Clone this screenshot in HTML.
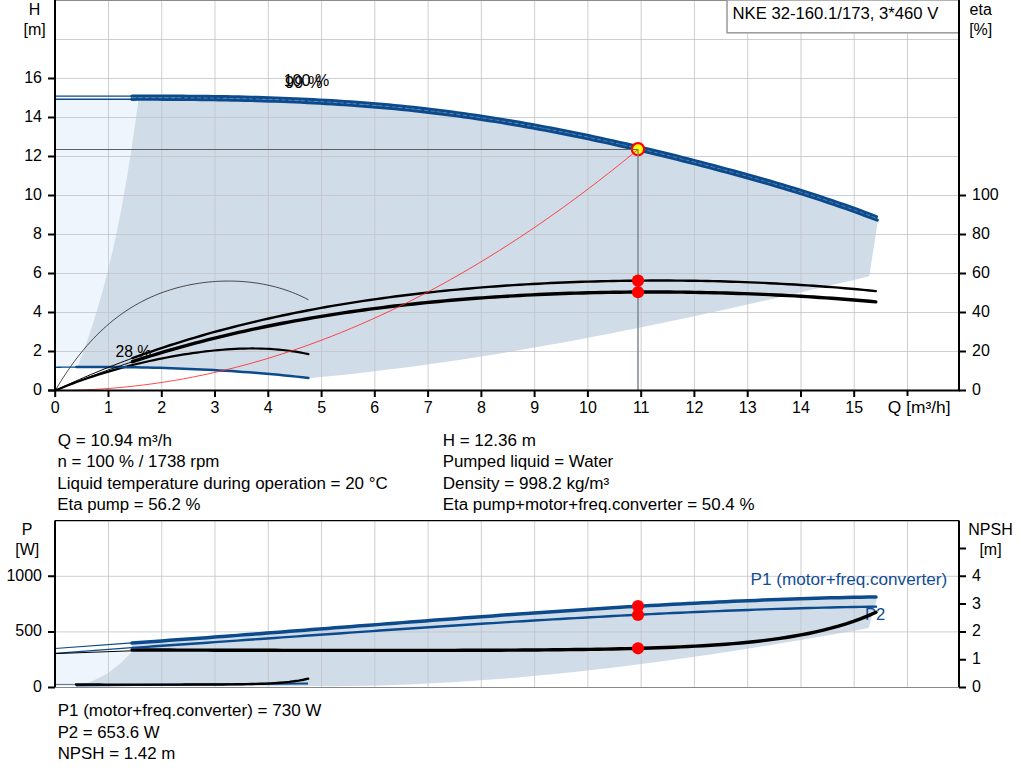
<!DOCTYPE html>
<html><head><meta charset="utf-8"><style>
html,body{margin:0;padding:0;background:#fff;width:1024px;height:781px;overflow:hidden;position:relative}
</style></head><body>
<svg width="1024" height="781" viewBox="0 0 1024 781" style="position:absolute;left:0;top:0">
<g font-family='"Liberation Sans", sans-serif' font-size="16">
<path d="M55.00,99.50 L136.00,99.50 L137.57,105.88 L136.62,112.77 L135.66,119.65 L134.69,126.54 L133.70,133.42 L132.69,140.31 L131.66,147.19 L130.61,154.08 L129.54,160.96 L128.44,167.85 L127.32,174.73 L126.17,181.62 L124.98,188.50 L123.76,195.38 L122.51,202.27 L121.23,209.15 L119.90,216.04 L118.54,222.92 L117.13,229.81 L115.68,236.69 L114.18,243.58 L112.64,250.46 L111.05,257.35 L109.41,264.23 L107.71,271.12 L105.96,278.00 L104.15,284.88 L102.29,291.77 L100.36,298.65 L98.38,305.54 L96.33,312.42 L94.21,319.31 L92.03,326.19 L89.78,333.08 L87.45,339.96 L85.06,346.85 L82.59,353.73 L80.04,360.62 L77.41,367.50 L55.00,367.50Z" fill="#eef5fc"/>
<path d="M136.00,99.17 L148.58,99.16 L161.15,99.18 L173.73,99.23 L186.31,99.31 L198.88,99.43 L211.46,99.58 L224.03,99.78 L236.61,100.03 L249.19,100.33 L261.76,100.68 L274.34,101.09 L286.92,101.56 L299.49,102.09 L312.07,102.70 L324.64,103.37 L337.22,104.13 L349.80,104.96 L362.37,105.88 L374.95,106.88 L387.53,107.97 L400.10,109.16 L412.68,110.45 L425.25,111.83 L437.83,113.32 L450.41,114.92 L462.98,116.62 L475.56,118.42 L488.14,120.32 L500.71,122.32 L513.29,124.41 L525.86,126.59 L538.44,128.86 L551.02,131.22 L563.59,133.66 L576.17,136.19 L588.75,138.80 L601.32,141.49 L613.90,144.26 L626.47,147.10 L639.05,150.01 L651.63,152.99 L664.20,156.04 L676.78,159.16 L689.36,162.34 L701.93,165.59 L714.51,168.89 L727.08,172.25 L739.66,175.67 L752.24,179.17 L764.81,182.74 L777.39,186.41 L789.97,190.19 L802.54,194.07 L815.12,198.08 L827.69,202.22 L840.27,206.51 L852.85,210.95 L865.42,215.56 L878.00,220.33 L878.00,220.33 L869.20,276.40 L869.20,276.30 L854.83,279.71 L840.45,283.11 L826.08,286.48 L811.70,289.83 L797.33,293.16 L782.95,296.47 L768.58,299.75 L754.21,303.00 L739.83,306.22 L725.46,309.40 L711.08,312.55 L696.71,315.66 L682.33,318.74 L667.96,321.77 L653.58,324.76 L639.21,327.70 L624.84,330.60 L610.46,333.44 L596.09,336.24 L581.71,338.98 L567.34,341.66 L552.96,344.29 L538.59,346.86 L524.22,349.37 L509.84,351.81 L495.47,354.19 L481.09,356.50 L466.72,358.73 L452.34,360.90 L437.97,362.99 L423.59,365.01 L409.22,366.95 L394.85,368.81 L380.47,370.59 L366.10,372.28 L351.72,373.88 L337.35,375.40 L322.97,376.83 L308.60,378.17 L308.40,377.91 L300.40,377.03 L292.41,376.20 L284.41,375.40 L276.41,374.65 L268.42,373.94 L260.42,373.26 L252.42,372.62 L244.43,372.03 L236.43,371.46 L228.43,370.94 L220.44,370.45 L212.44,370.00 L204.44,369.58 L196.45,369.20 L188.45,368.84 L180.46,368.53 L172.46,368.24 L164.46,367.98 L156.47,367.76 L148.47,367.57 L140.47,367.40 L132.48,367.26 L124.48,367.16 L116.48,367.08 L108.49,367.02 L100.49,366.99 L92.49,366.99 L84.50,367.01 L76.50,367.06 L77.41,367.50 L80.04,360.62 L82.59,353.73 L85.06,346.85 L87.45,339.96 L89.78,333.08 L92.03,326.19 L94.21,319.31 L96.33,312.42 L98.38,305.54 L100.36,298.65 L102.29,291.77 L104.15,284.88 L105.96,278.00 L107.71,271.12 L109.41,264.23 L111.05,257.35 L112.64,250.46 L114.18,243.58 L115.68,236.69 L117.13,229.81 L118.54,222.92 L119.90,216.04 L121.23,209.15 L122.51,202.27 L123.76,195.38 L124.98,188.50 L126.17,181.62 L127.32,174.73 L128.44,167.85 L129.54,160.96 L130.61,154.08 L131.66,147.19 L132.69,140.31 L133.70,133.42 L134.69,126.54 L135.66,119.65 L136.62,112.77 L137.57,105.88 L138.51,99.00Z" fill="#d0dce8"/>
<path d="M108.50,0 V390 M161.76,0 V390 M215.03,0 V390 M268.30,0 V390 M321.57,0 V390 M374.83,0 V390 M428.10,0 V390 M481.37,0 V390 M534.63,0 V390 M587.90,0 V390 M641.17,0 V390 M694.43,0 V390 M747.70,0 V390 M800.97,0 V390 M854.24,0 V390 M907.50,0 V390 M55,351.5 H959 M55,312.5 H959 M55,273.5 H959 M55,234.5 H959 M55,195.5 H959 M55,156.5 H959 M55,117.5 H959 M55,78.5 H959 M55,39.5 H959" stroke="#c2c3c8" stroke-opacity="0.8" stroke-width="1" fill="none"/>
<path d="M55,0.5 H959" stroke="#8c8c8c" stroke-width="1.2"/>
<rect x="727" y="0" width="232" height="32.8" fill="#fff" stroke="#9f9f9f" stroke-width="1.6"/>
<text x="732.50" y="19.00" textLength="205.84" lengthAdjust="spacingAndGlyphs" text-anchor="start" fill="#000" >NKE 32-160.1/173, 3*460 V</text>
<path d="M55.23,390.50 L58.43,385.15 L61.64,379.99 L64.84,375.04 L68.05,370.27 L71.25,365.69 L74.46,361.29 L77.66,357.06 L80.87,353.00 L84.07,349.10 L87.28,345.36 L90.48,341.78 L93.69,338.34 L96.89,335.04 L100.10,331.89 L103.30,328.87 L106.50,325.97 L109.71,323.21 L112.91,320.56 L116.12,318.04 L119.32,315.62 L122.53,313.32 L125.73,311.12 L128.94,309.03 L132.14,307.03 L135.35,305.13 L138.55,303.32 L141.76,301.61 L144.96,299.97 L148.17,298.43 L151.37,296.96 L154.58,295.57 L157.78,294.26 L160.98,293.02 L164.19,291.85 L167.39,290.75 L170.60,289.72 L173.80,288.75 L177.01,287.85 L180.21,287.01 L183.42,286.23 L186.62,285.50 L189.83,284.84 L193.03,284.23 L196.24,283.68 L199.44,283.18 L202.65,282.73 L205.85,282.34 L209.05,282.00 L212.26,281.72 L215.46,281.48 L218.67,281.29 L221.87,281.16 L225.08,281.08 L228.28,281.05 L231.49,281.07 L234.69,281.14 L237.90,281.26 L241.10,281.44 L244.31,281.67 L247.51,281.96 L250.72,282.30 L253.92,282.70 L257.13,283.15 L260.33,283.67 L263.53,284.24 L266.74,284.88 L269.94,285.58 L273.15,286.35 L276.35,287.18 L279.56,288.09 L282.76,289.06 L285.97,290.11 L289.17,291.24 L292.38,292.45 L295.58,293.73 L298.79,295.10 L301.99,296.56 L305.20,298.11 L308.40,299.75" stroke="#222" stroke-width="0.8" fill="none"/>
<path d="M55.23,390.50 L59.52,388.70 L63.81,386.96 L68.10,385.27 L72.39,383.63 L76.69,382.03 L80.98,380.49 L85.27,378.98 L89.56,377.52 L93.85,376.11 L98.14,374.73 L102.43,373.40 L106.72,372.10 L111.01,370.83 L115.30,369.61 L119.60,368.42 L123.89,367.26 L128.18,366.14 L132.47,365.05 L136.76,363.99 L141.05,362.97 L145.34,361.98 L149.63,361.01 L153.92,360.08 L158.21,359.19 L162.51,358.32 L166.80,357.48 L171.09,356.68 L175.38,355.91 L179.67,355.17 L183.96,354.46 L188.25,353.79 L192.54,353.15 L196.83,352.55 L201.12,351.99 L205.42,351.46 L209.71,350.97 L214.00,350.52 L218.29,350.11 L222.58,349.74 L226.87,349.41 L231.16,349.13 L235.45,348.90 L239.74,348.72 L244.03,348.58 L248.33,348.50 L252.62,348.47 L256.91,348.50 L261.20,348.59 L265.49,348.74 L269.78,348.95 L274.07,349.23 L278.36,349.58 L282.65,349.99 L286.94,350.48 L291.24,351.05 L295.53,351.70 L299.82,352.43 L304.11,353.25 L308.40,354.16" stroke="#000" stroke-width="2.2" fill="none" stroke-linecap="round"/>
<path d="M55.23,367.30 L57.59,367.26 L59.96,367.23 L62.32,367.20 L64.68,367.17 L67.05,367.15 L69.41,367.12 L71.77,367.10 L74.14,367.08 L76.50,367.06" stroke="#0b4a8c" stroke-width="1.3" fill="none"/>
<path d="M76.50,367.06 L82.45,367.02 L88.39,367.00 L94.34,366.99 L100.28,366.99 L106.23,367.01 L112.18,367.04 L118.12,367.09 L124.07,367.15 L130.02,367.23 L135.96,367.32 L141.91,367.43 L147.85,367.55 L153.80,367.69 L159.75,367.85 L165.69,368.02 L171.64,368.21 L177.58,368.42 L183.53,368.64 L189.48,368.89 L195.42,369.15 L201.37,369.43 L207.32,369.73 L213.26,370.04 L219.21,370.38 L225.15,370.74 L231.10,371.11 L237.05,371.51 L242.99,371.92 L248.94,372.36 L254.88,372.82 L260.83,373.29 L266.78,373.79 L272.72,374.31 L278.67,374.86 L284.62,375.42 L290.56,376.01 L296.51,376.62 L302.45,377.25 L308.40,377.91" stroke="#0b4a8c" stroke-width="2.5" fill="none" stroke-linecap="round"/>
<path d="M55.23,390.50 L59.30,388.59 L63.36,386.70 L67.43,384.84 L71.49,383.00 L75.56,381.18 L79.62,379.39 L83.69,377.63 L87.75,375.88 L91.82,374.16 L95.88,372.46 L99.95,370.79 L104.01,369.13 L108.08,367.50 L112.14,365.89 L116.21,364.31 L120.27,362.74 L124.34,361.20 L128.40,359.67 L132.47,358.17" stroke="#000" stroke-width="1" fill="none"/>
<path d="M132.47,358.17 L138.71,355.90 L144.96,353.68 L151.21,351.51 L157.45,349.38 L163.70,347.30 L169.95,345.26 L176.19,343.27 L182.44,341.32 L188.69,339.42 L194.93,337.55 L201.18,335.73 L207.43,333.95 L213.67,332.21 L219.92,330.51 L226.17,328.85 L232.41,327.22 L238.66,325.63 L244.91,324.08 L251.15,322.57 L257.40,321.09 L263.64,319.65 L269.89,318.24 L276.14,316.87 L282.38,315.53 L288.63,314.22 L294.88,312.94 L301.12,311.70 L307.37,310.49 L313.62,309.31 L319.86,308.16 L326.11,307.04 L332.36,305.94 L338.60,304.88 L344.85,303.84 L351.10,302.84 L357.34,301.86 L363.59,300.91 L369.84,299.98 L376.08,299.08 L382.33,298.21 L388.58,297.36 L394.82,296.53 L401.07,295.73 L407.32,294.96 L413.56,294.21 L419.81,293.48 L426.06,292.77 L432.30,292.09 L438.55,291.43 L444.80,290.79 L451.04,290.18 L457.29,289.58 L463.53,289.01 L469.78,288.45 L476.03,287.92 L482.27,287.41 L488.52,286.92 L494.77,286.45 L501.01,285.99 L507.26,285.56 L513.51,285.15 L519.75,284.75 L526.00,284.38 L532.25,284.02 L538.49,283.68 L544.74,283.36 L550.99,283.06 L557.23,282.77 L563.48,282.50 L569.73,282.25 L575.97,282.02 L582.22,281.80 L588.47,281.61 L594.71,281.43 L600.96,281.26 L607.21,281.11 L613.45,280.98 L619.70,280.87 L625.95,280.77 L632.19,280.69 L638.44,280.63 L644.69,280.58 L650.93,280.55 L657.18,280.54 L663.42,280.54 L669.67,280.56 L675.92,280.60 L682.16,280.65 L688.41,280.72 L694.66,280.81 L700.90,280.91 L707.15,281.03 L713.40,281.17 L719.64,281.32 L725.89,281.50 L732.14,281.68 L738.38,281.89 L744.63,282.11 L750.88,282.36 L757.12,282.61 L763.37,282.89 L769.62,283.19 L775.86,283.50 L782.11,283.83 L788.36,284.18 L794.60,284.55 L800.85,284.94 L807.10,285.34 L813.34,285.77 L819.59,286.21 L825.84,286.68 L832.08,287.17 L838.33,287.67 L844.58,288.20 L850.82,288.75 L857.07,289.32 L863.32,289.91 L869.56,290.52 L875.81,291.15" stroke="#000" stroke-width="2.4" fill="none" stroke-linecap="round"/>
<path d="M55.23,390.50 L59.30,388.81 L63.36,387.13 L67.43,385.48 L71.49,383.85 L75.56,382.23 L79.62,380.64 L83.69,379.07 L87.75,377.52 L91.82,375.99 L95.88,374.48 L99.95,372.98 L104.01,371.51 L108.08,370.05 L112.14,368.62 L116.21,367.20 L120.27,365.80 L124.34,364.42 L128.40,363.06 L132.47,361.72" stroke="#000" stroke-width="1" fill="none"/>
<path d="M132.47,361.72 L138.71,359.68 L144.96,357.70 L151.21,355.75 L157.45,353.84 L163.70,351.97 L169.95,350.14 L176.19,348.35 L182.44,346.60 L188.69,344.88 L194.93,343.20 L201.18,341.56 L207.43,339.96 L213.67,338.38 L219.92,336.85 L226.17,335.35 L232.41,333.88 L238.66,332.44 L244.91,331.04 L251.15,329.67 L257.40,328.33 L263.64,327.03 L269.89,325.75 L276.14,324.51 L282.38,323.29 L288.63,322.10 L294.88,320.95 L301.12,319.82 L307.37,318.72 L313.62,317.65 L319.86,316.60 L326.11,315.58 L332.36,314.59 L338.60,313.63 L344.85,312.69 L351.10,311.77 L357.34,310.88 L363.59,310.02 L369.84,309.18 L376.08,308.36 L382.33,307.57 L388.58,306.80 L394.82,306.05 L401.07,305.33 L407.32,304.63 L413.56,303.95 L419.81,303.29 L426.06,302.65 L432.30,302.03 L438.55,301.44 L444.80,300.87 L451.04,300.31 L457.29,299.78 L463.53,299.26 L469.78,298.77 L476.03,298.29 L482.27,297.83 L488.52,297.40 L494.77,296.98 L501.01,296.58 L507.26,296.19 L513.51,295.83 L519.75,295.48 L526.00,295.15 L532.25,294.84 L538.49,294.54 L544.74,294.26 L550.99,294.00 L557.23,293.75 L563.48,293.53 L569.73,293.31 L575.97,293.12 L582.22,292.94 L588.47,292.77 L594.71,292.63 L600.96,292.49 L607.21,292.38 L613.45,292.27 L619.70,292.19 L625.95,292.12 L632.19,292.06 L638.44,292.02 L644.69,292.00 L650.93,291.99 L657.18,292.00 L663.42,292.02 L669.67,292.05 L675.92,292.10 L682.16,292.17 L688.41,292.25 L694.66,292.34 L700.90,292.45 L707.15,292.58 L713.40,292.72 L719.64,292.88 L725.89,293.05 L732.14,293.23 L738.38,293.43 L744.63,293.65 L750.88,293.88 L757.12,294.12 L763.37,294.39 L769.62,294.66 L775.86,294.95 L782.11,295.26 L788.36,295.58 L794.60,295.92 L800.85,296.28 L807.10,296.65 L813.34,297.04 L819.59,297.44 L825.84,297.86 L832.08,298.30 L838.33,298.75 L844.58,299.22 L850.82,299.70 L857.07,300.21 L863.32,300.73 L869.56,301.27 L875.81,301.82" stroke="#000" stroke-width="3.4" fill="none" stroke-linecap="round"/>
<path d="M55.00,96.13 L132.00,96.13" stroke="#0b4a8c" stroke-width="1.3" fill="none"/>
<path d="M132.00,96.13 L138.26,96.12 L144.51,96.11 L150.77,96.11 L157.02,96.12 L163.28,96.14 L169.53,96.16 L175.79,96.19 L182.04,96.23 L188.30,96.28 L194.55,96.33 L200.81,96.40 L207.07,96.47 L213.32,96.56 L219.58,96.66 L225.83,96.76 L232.09,96.88 L238.34,97.02 L244.60,97.16 L250.85,97.32 L257.11,97.49 L263.36,97.68 L269.62,97.88 L275.88,98.09 L282.13,98.32 L288.39,98.57 L294.64,98.83 L300.90,99.11 L307.15,99.40 L313.41,99.72 L319.66,100.05 L325.92,100.40 L332.17,100.77 L338.43,101.15 L344.69,101.56 L350.94,101.99 L357.20,102.44 L363.45,102.91 L369.71,103.40 L375.96,103.91 L382.22,104.45 L388.47,105.01 L394.73,105.59 L400.98,106.20 L407.24,106.83 L413.50,107.48 L419.75,108.16 L426.01,108.87 L432.26,109.60 L438.52,110.36 L444.77,111.14 L451.03,111.95 L457.28,112.79 L463.54,113.65 L469.79,114.53 L476.05,115.44 L482.31,116.38 L488.56,117.34 L494.82,118.32 L501.07,119.32 L507.33,120.35 L513.58,121.41 L519.84,122.48 L526.09,123.58 L532.35,124.70 L538.61,125.84 L544.86,127.00 L551.12,128.19 L557.37,129.39 L563.63,130.62 L569.88,131.87 L576.14,133.14 L582.39,134.42 L588.65,135.73 L594.90,137.06 L601.16,138.41 L607.42,139.77 L613.67,141.16 L619.93,142.56 L626.18,143.98 L632.44,145.42 L638.69,146.88 L644.95,148.35 L651.20,149.84 L657.46,151.35 L663.71,152.87 L669.97,154.42 L676.23,155.97 L682.48,157.55 L688.74,159.13 L694.99,160.74 L701.25,162.36 L707.50,163.99 L713.76,165.64 L720.01,167.30 L726.27,168.98 L732.52,170.67 L738.78,172.38 L745.04,174.10 L751.29,175.85 L757.55,177.61 L763.80,179.40 L770.06,181.21 L776.31,183.04 L782.57,184.90 L788.82,186.79 L795.08,188.70 L801.33,190.64 L807.59,192.62 L813.85,194.62 L820.10,196.66 L826.36,198.73 L832.61,200.83 L838.87,202.97 L845.12,205.15 L851.38,207.37 L857.63,209.63 L863.89,211.93 L870.14,214.28 L876.40,216.67" stroke="#0b4a8c" stroke-width="3.3" fill="none" stroke-linecap="round"/>
<path d="M55.00,99.23 L132.00,99.23" stroke="#0b4a8c" stroke-width="1.3" fill="none"/>
<path d="M132.00,99.23 L138.26,99.22 L144.52,99.21 L150.79,99.21 L157.05,99.22 L163.31,99.24 L169.57,99.26 L175.84,99.29 L182.10,99.33 L188.36,99.38 L194.62,99.43 L200.88,99.50 L207.15,99.57 L213.41,99.66 L219.67,99.76 L225.93,99.87 L232.19,99.99 L238.46,100.12 L244.72,100.26 L250.98,100.42 L257.24,100.59 L263.51,100.78 L269.77,100.98 L276.03,101.20 L282.29,101.43 L288.55,101.67 L294.82,101.94 L301.08,102.21 L307.34,102.51 L313.60,102.83 L319.87,103.16 L326.13,103.51 L332.39,103.88 L338.65,104.27 L344.91,104.68 L351.18,105.11 L357.44,105.56 L363.70,106.03 L369.96,106.52 L376.23,107.04 L382.49,107.57 L388.75,108.13 L395.01,108.72 L401.27,109.33 L407.54,109.96 L413.80,110.61 L420.06,111.30 L426.32,112.00 L432.58,112.74 L438.85,113.50 L445.11,114.29 L451.37,115.10 L457.63,115.94 L463.90,116.80 L470.16,117.69 L476.42,118.60 L482.68,119.54 L488.94,120.50 L495.21,121.48 L501.47,122.49 L507.73,123.52 L513.99,124.58 L520.26,125.65 L526.52,126.75 L532.78,127.88 L539.04,129.02 L545.30,130.19 L551.57,131.37 L557.83,132.58 L564.09,133.81 L570.35,135.06 L576.62,136.33 L582.88,137.62 L589.14,138.94 L595.40,140.27 L601.66,141.62 L607.93,142.98 L614.19,144.37 L620.45,145.78 L626.71,147.20 L632.97,148.64 L639.24,150.10 L645.50,151.58 L651.76,153.07 L658.02,154.59 L664.29,156.11 L670.55,157.66 L676.81,159.22 L683.07,160.80 L689.33,162.39 L695.60,163.99 L701.86,165.62 L708.12,167.25 L714.38,168.90 L720.65,170.57 L726.91,172.25 L733.17,173.95 L739.43,175.66 L745.69,177.39 L751.96,179.14 L758.22,180.91 L764.48,182.70 L770.74,184.51 L777.01,186.35 L783.27,188.21 L789.53,190.10 L795.79,192.02 L802.05,193.97 L808.32,195.95 L814.58,197.96 L820.84,200.00 L827.10,202.08 L833.36,204.19 L839.63,206.34 L845.89,208.52 L852.15,210.75 L858.41,213.02 L864.68,215.33 L870.94,217.68 L877.20,220.08" stroke="#0b4a8c" stroke-width="3.3" fill="none" stroke-linecap="round"/>
<path d="M132.00,97.68 L138.25,97.67 L144.50,97.66 L150.76,97.66 L157.01,97.67 L163.26,97.69 L169.51,97.71 L175.76,97.74 L182.02,97.78 L188.27,97.83 L194.52,97.88 L200.77,97.95 L207.03,98.02 L213.28,98.11 L219.53,98.21 L225.78,98.31 L232.03,98.43 L238.29,98.56 L244.54,98.71 L250.79,98.87 L257.04,99.04 L263.29,99.22 L269.55,99.42 L275.80,99.64 L282.05,99.87 L288.30,100.11 L294.55,100.37 L300.81,100.65 L307.06,100.95 L313.31,101.26 L319.56,101.59 L325.82,101.94 L332.07,102.31 L338.32,102.70 L344.57,103.10 L350.82,103.53 L357.08,103.98 L363.33,104.45 L369.58,104.94 L375.83,105.45 L382.08,105.99 L388.34,106.55 L394.59,107.13 L400.84,107.73 L407.09,108.36 L413.34,109.02 L419.60,109.70 L425.85,110.40 L432.10,111.13 L438.35,111.89 L444.61,112.67 L450.86,113.48 L457.11,114.31 L463.36,115.17 L469.61,116.06 L475.87,116.97 L482.12,117.90 L488.37,118.86 L494.62,119.84 L500.87,120.84 L507.13,121.87 L513.38,122.92 L519.63,123.99 L525.88,125.09 L532.13,126.21 L538.39,127.35 L544.64,128.51 L550.89,129.69 L557.14,130.90 L563.39,132.12 L569.65,133.37 L575.90,134.64 L582.15,135.92 L588.40,137.23 L594.66,138.56 L600.91,139.90 L607.16,141.27 L613.41,142.65 L619.66,144.05 L625.92,145.47 L632.17,146.91 L638.42,148.36 L644.67,149.83 L650.92,151.32 L657.18,152.83 L663.43,154.35 L669.68,155.89 L675.93,157.45 L682.18,159.02 L688.44,160.61 L694.69,162.21 L700.94,163.83 L707.19,165.46 L713.45,167.11 L719.70,168.77 L725.95,170.44 L732.20,172.13 L738.45,173.84 L744.71,175.56 L750.96,177.31 L757.21,179.07 L763.46,180.85 L769.71,182.66 L775.97,184.49 L782.22,186.35 L788.47,188.23 L794.72,190.14 L800.97,192.08 L807.23,194.05 L813.48,196.05 L819.73,198.08 L825.98,200.15 L832.24,202.25 L838.49,204.39 L844.74,206.57 L850.99,208.79 L857.24,211.04 L863.50,213.34 L869.75,215.68 L876.00,218.06" stroke="#7f9cc0" stroke-width="0.6" fill="none" stroke-dasharray="4 2.5"/>
<circle cx="638" cy="149.2" r="6.1" fill="#ffff00" stroke="#ff0000" stroke-width="2.2"/>
<path d="M55.23,390.50 L65.11,390.43 L74.98,390.22 L84.86,389.88 L94.74,389.39 L104.61,388.77 L114.49,388.01 L124.37,387.11 L134.25,386.07 L144.12,384.89 L154.00,383.58 L163.88,382.12 L173.75,380.53 L183.63,378.80 L193.51,376.93 L203.38,374.92 L213.26,372.77 L223.14,370.49 L233.02,368.07 L242.89,365.50 L252.77,362.80 L262.65,359.97 L272.52,356.99 L282.40,353.87 L292.28,350.62 L302.15,347.23 L312.03,343.69 L321.91,340.02 L331.79,336.22 L341.66,332.27 L351.54,328.19 L361.42,323.96 L371.29,319.60 L381.17,315.10 L391.05,310.46 L400.92,305.68 L410.80,300.77 L420.68,295.71 L430.55,290.52 L440.43,285.19 L450.31,279.72 L460.19,274.11 L470.06,268.36 L479.94,262.48 L489.82,256.45 L499.69,250.29 L509.57,243.99 L519.45,237.55 L529.32,230.97 L539.20,224.26 L549.08,217.40 L558.96,210.41 L568.83,203.28 L578.71,196.01 L588.59,188.60 L598.46,181.05 L608.34,173.37 L618.22,165.54 L628.09,157.58 L637.97,149.48" stroke="#ff2a2a" stroke-width="0.85" fill="none"/>
<path d="M55,149.5 H638" stroke="#606060" stroke-width="1" fill="none"/>
<path d="M638,149 V390" stroke="#7d8893" stroke-width="2" stroke-opacity="0.75" fill="none"/>
<circle cx="638" cy="280.6" r="6.1" fill="#ff0000"/>
<circle cx="638" cy="292.2" r="6.1" fill="#ff0000"/>
<path d="M55,0 V391.5 M48,390.5 H960 M959,0 V391.5" stroke="#000" stroke-width="2" fill="none"/>
<path d="M48,390.5 H55 M48,351.5 H55 M48,312.5 H55 M48,273.5 H55 M48,234.5 H55 M48,195.5 H55 M48,156.5 H55 M48,117.5 H55 M48,78.5 H55 M55.2,390 V397 M108.5,390 V397 M161.8,390 V397 M215.0,390 V397 M268.3,390 V397 M321.6,390 V397 M374.8,390 V397 M428.1,390 V397 M481.4,390 V397 M534.6,390 V397 M587.9,390 V397 M641.2,390 V397 M694.4,390 V397 M747.7,390 V397 M801.0,390 V397 M854.2,390 V397 M907.5,390 V397 M959,390.5 H966 M959,351.5 H966 M959,312.5 H966 M959,273.5 H966 M959,234.5 H966 M959,195.5 H966" stroke="#000" stroke-width="2" fill="none"/>
<text x="42" y="395.0" text-anchor="end">0</text>
<text x="42" y="356.0" text-anchor="end">2</text>
<text x="42" y="317.0" text-anchor="end">4</text>
<text x="42" y="278.0" text-anchor="end">6</text>
<text x="42" y="239.0" text-anchor="end">8</text>
<text x="42" y="200.0" text-anchor="end">10</text>
<text x="42" y="161.0" text-anchor="end">12</text>
<text x="42" y="122.0" text-anchor="end">14</text>
<text x="42" y="83.0" text-anchor="end">16</text>
<text x="55.2" y="412.6" text-anchor="middle">0</text>
<text x="108.5" y="412.6" text-anchor="middle">1</text>
<text x="161.8" y="412.6" text-anchor="middle">2</text>
<text x="215.0" y="412.6" text-anchor="middle">3</text>
<text x="268.3" y="412.6" text-anchor="middle">4</text>
<text x="321.6" y="412.6" text-anchor="middle">5</text>
<text x="374.8" y="412.6" text-anchor="middle">6</text>
<text x="428.1" y="412.6" text-anchor="middle">7</text>
<text x="481.4" y="412.6" text-anchor="middle">8</text>
<text x="534.6" y="412.6" text-anchor="middle">9</text>
<text x="587.9" y="412.6" text-anchor="middle">10</text>
<text x="641.2" y="412.6" text-anchor="middle">11</text>
<text x="694.4" y="412.6" text-anchor="middle">12</text>
<text x="747.7" y="412.6" text-anchor="middle">13</text>
<text x="801.0" y="412.6" text-anchor="middle">14</text>
<text x="854.2" y="412.6" text-anchor="middle">15</text>
<text x="972" y="395.0">0</text>
<text x="972" y="356.0">20</text>
<text x="972" y="317.0">40</text>
<text x="972" y="278.0">60</text>
<text x="972" y="239.0">80</text>
<text x="972" y="200.0">100</text>
<rect x="886" y="396" width="69" height="22" fill="#fff"/>
<text x="887.89" y="412.80" textLength="62.60" lengthAdjust="spacingAndGlyphs" text-anchor="start" fill="#000" >Q [m³/h]</text>
<text x="34.6" y="15" text-anchor="middle">H</text>
<text x="34.6" y="35" text-anchor="middle">[m]</text>
<text x="980.7" y="15" text-anchor="middle">eta</text>
<text x="980.7" y="35" text-anchor="middle">[%]</text>
<text x="283.65" y="85.90" textLength="45.52" lengthAdjust="spacingAndGlyphs" text-anchor="start" fill="#000" >100 %</text>
<text x="285.13" y="88.30" textLength="37.35" lengthAdjust="spacingAndGlyphs" text-anchor="start" fill="#000" >99 %</text>
<text x="115.46" y="357.00" textLength="35.80" lengthAdjust="spacingAndGlyphs" text-anchor="start" fill="#000" >28 %</text>
<text x="57.80" y="445.80" textLength="114.07" lengthAdjust="spacingAndGlyphs" text-anchor="start" fill="#000" >Q = 10.94 m³/h</text>
<text x="57.54" y="467.10" textLength="161.90" lengthAdjust="spacingAndGlyphs" text-anchor="start" fill="#000" >n = 100 % / 1738 rpm</text>
<text x="57.28" y="489.30" textLength="330.48" lengthAdjust="spacingAndGlyphs" text-anchor="start" fill="#000" >Liquid temperature during operation = 20 °C</text>
<text x="57.29" y="509.70" textLength="143.27" lengthAdjust="spacingAndGlyphs" text-anchor="start" fill="#000" >Eta pump = 56.2 %</text>
<text x="442.67" y="445.80" textLength="93.20" lengthAdjust="spacingAndGlyphs" text-anchor="start" fill="#000" >H = 12.36 m</text>
<text x="442.68" y="467.10" textLength="170.58" lengthAdjust="spacingAndGlyphs" text-anchor="start" fill="#000" >Pumped liquid = Water</text>
<text x="442.67" y="489.30" textLength="166.47" lengthAdjust="spacingAndGlyphs" text-anchor="start" fill="#000" >Density = 998.2 kg/m³</text>
<text x="442.68" y="509.70" textLength="311.83" lengthAdjust="spacingAndGlyphs" text-anchor="start" fill="#000" >Eta pump+motor+freq.converter = 50.4 %</text>
<path d="M55.00,653.60 L132.30,651.40 L121.00,662.80 L108.20,673.00 L90.50,681.90 L76.50,685.20 L55.00,685.20Z" fill="#eef5fc"/>
<path d="M132.00,644.52 L147.20,643.46 L162.41,642.39 L177.61,641.29 L192.82,640.18 L208.02,639.06 L223.22,637.93 L238.43,636.78 L253.63,635.63 L268.84,634.46 L284.04,633.30 L299.24,632.12 L314.45,630.95 L329.65,629.77 L344.86,628.59 L360.06,627.41 L375.27,626.23 L390.47,625.06 L405.67,623.89 L420.88,622.73 L436.08,621.58 L451.29,620.44 L466.49,619.31 L481.69,618.19 L496.90,617.08 L512.10,616.00 L527.31,614.93 L542.51,613.87 L557.71,612.84 L572.92,611.83 L588.12,610.84 L603.33,609.88 L618.53,608.94 L633.73,608.03 L648.94,607.15 L664.14,606.30 L679.35,605.48 L694.55,604.69 L709.76,603.94 L724.96,603.22 L740.16,602.55 L755.37,601.91 L770.57,601.31 L785.78,600.76 L800.98,600.24 L816.18,599.78 L831.39,599.36 L846.59,598.98 L861.80,598.66 L877.00,598.39 L868.50,628.50 L868.50,628.04 L854.13,630.64 L839.76,633.20 L825.38,635.73 L811.01,638.22 L796.64,640.66 L782.27,643.07 L767.90,645.43 L753.53,647.74 L739.15,650.00 L724.78,652.22 L710.41,654.38 L696.04,656.49 L681.67,658.54 L667.29,660.54 L652.92,662.48 L638.55,664.35 L624.18,666.16 L609.81,667.91 L595.44,669.58 L581.06,671.19 L566.69,672.73 L552.32,674.20 L537.95,675.59 L523.58,676.90 L509.21,678.13 L494.83,679.29 L480.46,680.36 L466.09,681.35 L451.72,682.25 L437.35,683.06 L422.97,683.79 L408.60,684.42 L394.23,684.95 L379.86,685.39 L365.49,685.74 L351.12,685.98 L336.74,686.13 L322.37,686.17 L308.00,686.10 L76.50,686.00 L76.50,685.20 L90.50,681.90 L108.20,673.00 L121.00,662.80 L132.30,651.40Z" fill="#d0dce8"/>
<path d="M108.50,521 V687 M161.76,521 V687 M215.03,521 V687 M268.30,521 V687 M321.57,521 V687 M374.83,521 V687 M428.10,521 V687 M481.37,521 V687 M534.63,521 V687 M587.90,521 V687 M641.17,521 V687 M694.43,521 V687 M747.70,521 V687 M800.97,521 V687 M854.24,521 V687 M907.50,521 V687 M55,631.90 H959 M55,576.30 H959" stroke="#c2c3c8" stroke-opacity="0.8" stroke-width="1" fill="none"/>
<text x="750.46" y="585.10" textLength="196.68" lengthAdjust="spacingAndGlyphs" text-anchor="start" fill="#124d92" >P1 (motor+freq.converter)</text>
<text x="864.90" y="620.40" textLength="20.40" lengthAdjust="spacingAndGlyphs" text-anchor="start" fill="#124d92" >P2</text>
<path d="M55,684.5 H76" stroke="#6c7c90" stroke-width="1.2" fill="none"/>
<path d="M76,685.5 L308,683.5" stroke="#0b4a8c" stroke-width="2" fill="none"/>
<path d="M76.00,684.55 L80.74,684.56 L85.48,684.56 L90.22,684.57 L94.96,684.57 L99.69,684.57 L104.43,684.58 L109.17,684.58 L113.91,684.58 L118.65,684.58 L123.39,684.59 L128.13,684.59 L132.87,684.59 L137.60,684.59 L142.34,684.59 L147.08,684.59 L151.82,684.59 L156.56,684.59 L161.30,684.59 L166.04,684.59 L170.78,684.59 L175.51,684.58 L180.25,684.58 L184.99,684.57 L189.73,684.56 L194.47,684.56 L199.21,684.54 L203.95,684.53 L208.69,684.51 L213.42,684.49 L218.16,684.46 L222.90,684.43 L227.64,684.39 L232.38,684.35 L237.12,684.29 L241.86,684.22 L246.60,684.14 L251.33,684.04 L256.07,683.92 L260.81,683.77 L265.55,683.58 L270.29,683.36 L275.03,683.09 L279.77,682.77 L284.51,682.37 L289.24,681.89 L293.98,681.30 L298.72,680.58 L303.46,679.70 L308.20,678.64" stroke="#000" stroke-width="2.4" fill="none" stroke-linecap="round"/>
<path d="M55,648.5 L132,642.9" stroke="#0b4a8c" stroke-width="1.2" fill="none"/>
<path d="M55,653.4 L132,647.6" stroke="#0b4a8c" stroke-width="1.2" fill="none"/>
<path d="M55,653.6 L132,650.8" stroke="#000" stroke-width="1" fill="none"/>
<path d="M132.00,649.93 L139.52,649.95 L147.03,649.98 L154.55,650.00 L162.06,650.03 L169.58,650.05 L177.09,650.08 L184.61,650.10 L192.12,650.12 L199.64,650.14 L207.15,650.16 L214.67,650.18 L222.18,650.20 L229.70,650.22 L237.21,650.24 L244.73,650.26 L252.24,650.27 L259.76,650.29 L267.27,650.30 L274.79,650.32 L282.30,650.33 L289.82,650.34 L297.33,650.36 L304.85,650.37 L312.36,650.38 L319.88,650.39 L327.39,650.39 L334.91,650.40 L342.42,650.41 L349.94,650.41 L357.45,650.42 L364.97,650.42 L372.48,650.42 L380.00,650.42 L387.52,650.42 L395.03,650.42 L402.55,650.42 L410.06,650.41 L417.58,650.41 L425.09,650.40 L432.61,650.39 L440.12,650.38 L447.64,650.36 L455.15,650.34 L462.67,650.32 L470.18,650.30 L477.70,650.28 L485.21,650.25 L492.73,650.22 L500.24,650.18 L507.76,650.14 L515.27,650.10 L522.79,650.05 L530.30,650.00 L537.82,649.94 L545.33,649.88 L552.85,649.81 L560.36,649.73 L567.88,649.65 L575.39,649.56 L582.91,649.46 L590.42,649.34 L597.94,649.22 L605.45,649.09 L612.97,648.95 L620.48,648.79 L628.00,648.62 L635.52,648.43 L643.03,648.22 L650.55,647.99 L658.06,647.75 L665.58,647.48 L673.09,647.18 L680.61,646.86 L688.12,646.51 L695.64,646.12 L703.15,645.70 L710.67,645.24 L718.18,644.74 L725.70,644.19 L733.21,643.59 L740.73,642.94 L748.24,642.22 L755.76,641.44 L763.27,640.58 L770.79,639.65 L778.30,638.63 L785.82,637.51 L793.33,636.28 L800.85,634.95 L808.36,633.48 L815.88,631.88 L823.39,630.13 L830.91,628.22 L838.42,626.12 L845.94,623.83 L853.45,621.33 L860.97,618.59 L868.48,615.59 L876.00,612.31" stroke="#000" stroke-width="3.4" fill="none" stroke-linecap="round"/>
<path d="M132.00,647.85 L139.52,647.34 L147.03,646.83 L154.55,646.32 L162.06,645.80 L169.58,645.29 L177.09,644.77 L184.61,644.25 L192.12,643.73 L199.64,643.21 L207.15,642.69 L214.67,642.16 L222.18,641.64 L229.70,641.11 L237.21,640.58 L244.73,640.05 L252.24,639.52 L259.76,638.99 L267.27,638.46 L274.79,637.93 L282.30,637.40 L289.82,636.87 L297.33,636.34 L304.85,635.82 L312.36,635.29 L319.88,634.76 L327.39,634.23 L334.91,633.70 L342.42,633.18 L349.94,632.65 L357.45,632.13 L364.97,631.61 L372.48,631.09 L380.00,630.57 L387.52,630.05 L395.03,629.54 L402.55,629.03 L410.06,628.52 L417.58,628.01 L425.09,627.50 L432.61,627.00 L440.12,626.50 L447.64,626.00 L455.15,625.51 L462.67,625.02 L470.18,624.53 L477.70,624.04 L485.21,623.56 L492.73,623.08 L500.24,622.61 L507.76,622.14 L515.27,621.67 L522.79,621.21 L530.30,620.75 L537.82,620.30 L545.33,619.85 L552.85,619.41 L560.36,618.97 L567.88,618.53 L575.39,618.11 L582.91,617.68 L590.42,617.26 L597.94,616.85 L605.45,616.44 L612.97,616.04 L620.48,615.64 L628.00,615.26 L635.52,614.87 L643.03,614.49 L650.55,614.12 L658.06,613.76 L665.58,613.40 L673.09,613.05 L680.61,612.70 L688.12,612.37 L695.64,612.04 L703.15,611.71 L710.67,611.40 L718.18,611.09 L725.70,610.79 L733.21,610.50 L740.73,610.21 L748.24,609.94 L755.76,609.67 L763.27,609.41 L770.79,609.16 L778.30,608.92 L785.82,608.68 L793.33,608.46 L800.85,608.24 L808.36,608.04 L815.88,607.84 L823.39,607.65 L830.91,607.47 L838.42,607.30 L845.94,607.14 L853.45,606.99 L860.97,606.85 L868.48,606.73 L876.00,606.61" stroke="#0b4a8c" stroke-width="2.4" fill="none" stroke-linecap="round"/>
<path d="M132.00,643.02 L139.52,642.50 L147.03,641.98 L154.55,641.45 L162.06,640.91 L169.58,640.37 L177.09,639.83 L184.61,639.28 L192.12,638.74 L199.64,638.18 L207.15,637.63 L214.67,637.07 L222.18,636.51 L229.70,635.94 L237.21,635.37 L244.73,634.80 L252.24,634.23 L259.76,633.66 L267.27,633.08 L274.79,632.51 L282.30,631.93 L289.82,631.35 L297.33,630.77 L304.85,630.19 L312.36,629.61 L319.88,629.02 L327.39,628.44 L334.91,627.86 L342.42,627.27 L349.94,626.69 L357.45,626.11 L364.97,625.53 L372.48,624.95 L380.00,624.37 L387.52,623.79 L395.03,623.21 L402.55,622.63 L410.06,622.06 L417.58,621.48 L425.09,620.91 L432.61,620.34 L440.12,619.78 L447.64,619.21 L455.15,618.65 L462.67,618.09 L470.18,617.53 L477.70,616.98 L485.21,616.43 L492.73,615.89 L500.24,615.34 L507.76,614.81 L515.27,614.27 L522.79,613.74 L530.30,613.22 L537.82,612.70 L545.33,612.18 L552.85,611.67 L560.36,611.16 L567.88,610.66 L575.39,610.17 L582.91,609.68 L590.42,609.19 L597.94,608.72 L605.45,608.24 L612.97,607.78 L620.48,607.32 L628.00,606.87 L635.52,606.42 L643.03,605.99 L650.55,605.56 L658.06,605.13 L665.58,604.72 L673.09,604.31 L680.61,603.91 L688.12,603.52 L695.64,603.14 L703.15,602.76 L710.67,602.40 L718.18,602.04 L725.70,601.69 L733.21,601.35 L740.73,601.02 L748.24,600.70 L755.76,600.39 L763.27,600.09 L770.79,599.80 L778.30,599.52 L785.82,599.25 L793.33,599.00 L800.85,598.75 L808.36,598.51 L815.88,598.29 L823.39,598.07 L830.91,597.87 L838.42,597.68 L845.94,597.50 L853.45,597.33 L860.97,597.18 L868.48,597.03 L876.00,596.90" stroke="#0b4a8c" stroke-width="3.5" fill="none" stroke-linecap="round"/>
<circle cx="638" cy="606.1" r="6.1" fill="#ff0000"/>
<circle cx="638" cy="615.0" r="6.1" fill="#ff0000"/>
<circle cx="638" cy="648.3" r="6.1" fill="#ff0000"/>
<path d="M55,520.6 H959" stroke="#000" stroke-width="1.2" fill="none"/>
<path d="M55,520.5 V688 M959,520.5 V688" stroke="#000" stroke-width="2" fill="none"/>
<path d="M55,687.5 H959" stroke="#888" stroke-width="1" fill="none"/>
<path d="M48,687.5 H55 M48,631.9 H55 M48,576.3 H55 M959,687.5 H966 M959,659.7 H966 M959,631.9 H966 M959,604.1 H966 M959,576.3 H966 M959,548.5 H966" stroke="#000" stroke-width="2" fill="none"/>
<text x="42" y="692.0" text-anchor="end">0</text>
<text x="42" y="636.4" text-anchor="end">500</text>
<text x="42" y="580.8" text-anchor="end">1000</text>
<text x="972" y="692.0">0</text>
<text x="972" y="664.2">1</text>
<text x="972" y="636.4">2</text>
<text x="972" y="608.6">3</text>
<text x="972" y="580.8">4</text>
<text x="27.2" y="534.9" text-anchor="middle">P</text>
<text x="27.2" y="555.2" text-anchor="middle">[W]</text>
<text x="990.5" y="534.9" text-anchor="middle">NPSH</text>
<text x="990.5" y="555.2" text-anchor="middle">[m]</text>
<text x="57.67" y="715.80" textLength="263.74" lengthAdjust="spacingAndGlyphs" text-anchor="start" fill="#000" >P1 (motor+freq.converter) = 730 W</text>
<text x="57.69" y="737.50" textLength="101.96" lengthAdjust="spacingAndGlyphs" text-anchor="start" fill="#000" >P2 = 653.6 W</text>
<text x="57.68" y="759.00" textLength="117.68" lengthAdjust="spacingAndGlyphs" text-anchor="start" fill="#000" >NPSH = 1.42 m</text>
</g></svg>
</body></html>
